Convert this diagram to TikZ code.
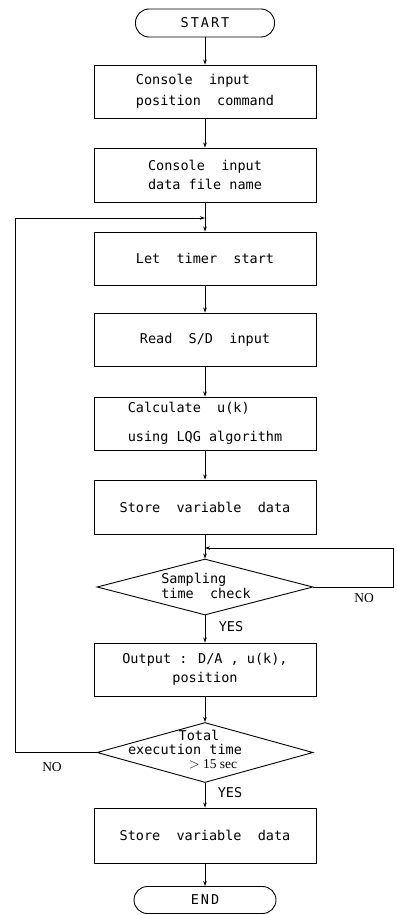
\documentclass[tikz,border=0pt]{standalone}
\usepackage{fontspec}
\usetikzlibrary{shapes.geometric,arrows.meta}
\newfontfamily\dmono{DejaVu Sans Mono}
\newfontfamily\dmonols[LetterSpace=15]{DejaVu Sans Mono}
\newfontfamily\tserif{Liberation Serif}
\begin{document}
\begin{tikzpicture}[x=1pt,y=-1pt,
  txt/.style={font=\dmono\fontsize{13.5}{20}\selectfont},
  box/.style={txt,draw,rectangle,minimum width=222pt,minimum height=53pt,inner sep=0pt,line width=0.9pt},
  term/.style={draw,rectangle,rounded corners=13.5pt,minimum height=28pt,inner sep=0pt,line width=0.9pt,font=\dmonols\fontsize{13.5}{16}\selectfont},
  dia/.style={draw,diamond,minimum width=216pt,minimum height=56pt,inner sep=0pt,line width=0.9pt},
  dtxt/.style={font=\dmono\fontsize{13.5}{14.5}\selectfont,inner sep=0pt},
  lab/.style={font=\dmono\fontsize{13.5}{16}\selectfont,inner sep=0pt},
  nolab/.style={font=\tserif\fontsize{13.5}{16}\selectfont,inner sep=0pt},
  conn/.style={line width=0.9pt},
  arr/.style={conn,-{Stealth[length=5pt,width=3.5pt]}}
]
\useasboundingbox (0,0) rectangle (396,915);

\node[term,minimum width=139pt] (start) at (205,23) {START};
\node[box,align=left] (b1) at (205,91.5) {Console\ \ input\\[1pt]position\ \ command};
\node[box,minimum height=54pt,align=center] (b2) at (205,175) {Console\ \ input\\[-1pt]data file name};
\node[box] (b3) at (205,258.5) {Let\ \ timer\ \ start};
\node[box] (b4) at (205,339.5) {Read\ \ S/D\ \ input};
\node[box,align=left] (b5) at (205,423.5) {Calculate\ \ u(k)\\[9pt]using LQG algorithm};
\node[box,minimum height=54pt] (b6) at (205,507) {Store\ \ variable\ \ data};
\node[dia] (d1) at (205,587) {};
\node[dtxt,align=left] (d1t) at (206,586) {Sampling\\time\ \ check};
\node[box,align=center] (b7) at (205,669.5) {Output : D/A , u(k),\\[-1pt]position};
\node[dia,minimum height=60pt] (d2) at (205,752.5) {};
\node[dtxt] (d2a) at (199,735) {Total};
\node[dtxt] (d2b) at (185,749) {execution time};
\node[nolab] (d2c) at (213,764) {$>$ 15 sec};
\node[box,minimum height=55pt] (b8) at (205,835.5) {Store\ \ variable\ \ data};
\node[term,minimum width=142pt,minimum height=27pt] (end) at (205,900) {END};

\node[lab] (y1) at (231,627) {YES};
\node[lab] (y2) at (230,793) {YES};
\node[nolab] (n1) at (364,598) {NO};
\node[nolab] (n2) at (52,767) {NO};

\coordinate (j1) at (205,218);
\coordinate (j2) at (205,548);
\coordinate (lc) at (15,218);
\coordinate (rc) at (393,548);

\draw[arr] (start) -- (b1);
\draw[arr] (b1) -- (b2);
\draw[arr] (b2) -- (b3);
\draw[arr] (b3) -- (b4);
\draw[arr] (b4) -- (b5);
\draw[arr] (b5) -- (b6);
\draw[arr] (b6) -- (d1);
\draw[arr] (d1) -- (b7);
\draw[arr] (b7) -- (d2);
\draw[arr] (d2) -- (b8);
\draw[arr] (b8) -- (end);
\draw[arr] (d1.east) -| (rc) -- (j2);
\draw[arr] (d2.west) -| (lc) -- (j1);
\end{tikzpicture}
\end{document}
